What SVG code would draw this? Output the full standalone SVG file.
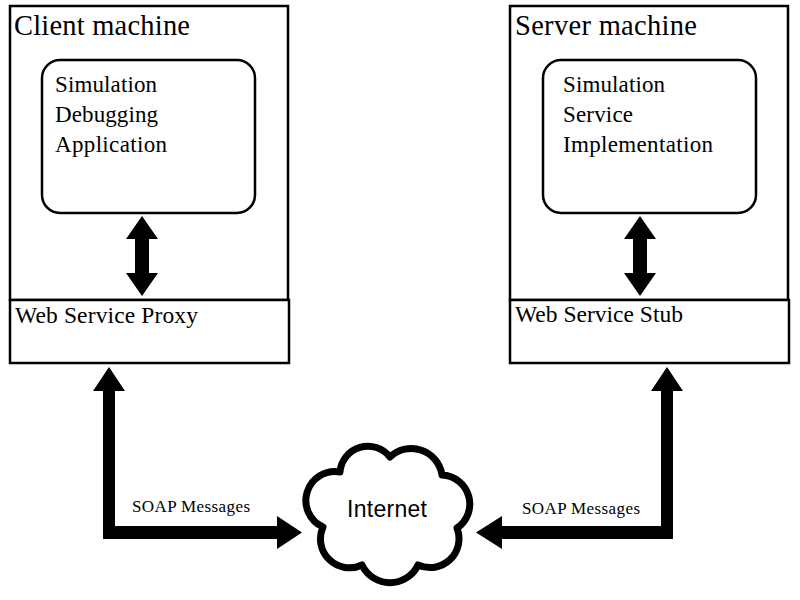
<svg xmlns="http://www.w3.org/2000/svg" width="800" height="600" viewBox="0 0 800 600">
<style>
.box{fill:#fff;stroke:#000;stroke-width:2.5}
.inner{fill:#fff;stroke:#000;stroke-width:2.5}
.title{font-family:"Liberation Serif","Times New Roman",serif;font-size:28.5px;fill:#000}
.lbl{font-family:"Liberation Serif","Times New Roman",serif;font-size:23px;fill:#000}
.proxy{font-family:"Liberation Serif","Times New Roman",serif;font-size:23.5px;fill:#000}
.soap{font-family:"Liberation Serif","Times New Roman",serif;font-size:17px;fill:#000}
.net{font-family:"Liberation Sans",Arial,sans-serif;font-size:23px;fill:#000}
.arr{fill:#000;stroke:none}
.cloud{fill:#fff;stroke:#000;stroke-width:7;stroke-linejoin:round}
</style>
<rect width="800" height="600" fill="#fff"/>
<g id="client">
  <rect class="box" x="10" y="6" width="278" height="294"/>
  <text class="title" x="14" y="35" textLength="176" lengthAdjust="spacing">Client machine</text>
</g>
<g id="client-app">
  <rect class="inner" x="42" y="60" width="213" height="153" rx="18" ry="18"/>
  <text class="lbl" x="55" y="92" textLength="102" lengthAdjust="spacing">Simulation</text>
  <text class="lbl" x="55" y="122" textLength="103" lengthAdjust="spacing">Debugging</text>
  <text class="lbl" x="55" y="152" textLength="112" lengthAdjust="spacing">Application</text>
</g>
<g id="client-proxy">
  <rect class="box" x="10" y="300" width="279" height="63"/>
  <text class="proxy" x="15" y="323" textLength="183" lengthAdjust="spacing">Web Service Proxy</text>
</g>
<g id="server">
  <rect class="box" x="510" y="6" width="278" height="294"/>
  <text class="title" x="515" y="35" textLength="182" lengthAdjust="spacing">Server machine</text>
</g>
<g id="server-impl">
  <rect class="inner" x="543" y="60" width="213" height="153" rx="18" ry="18"/>
  <text class="lbl" x="563" y="92" textLength="102" lengthAdjust="spacing">Simulation</text>
  <text class="lbl" x="563" y="122" textLength="70" lengthAdjust="spacing">Service</text>
  <text class="lbl" x="563" y="152" textLength="150" lengthAdjust="spacing">Implementation</text>
</g>
<g id="server-stub">
  <rect class="box" x="510" y="300" width="279" height="63"/>
  <text class="proxy" x="515" y="322" textLength="168" lengthAdjust="spacing">Web Service Stub</text>
</g>
<g id="internet">
  <path class="cloud" d="M340,472 A28,28 0 0 1 390,457 A31,31 0 0 1 442,475 A29,29 0 0 1 457,528 A29,29 0 0 1 418,565 A31,31 0 0 1 362,565 A29,29 0 0 1 323,527 A29,29 0 0 1 340,472 Z"/>
  <text class="net" x="387" y="517" text-anchor="middle" textLength="80" lengthAdjust="spacing">Internet</text>
</g>
<g id="connectors">
  <polygon class="arr" points="142,216 158,239 149,239 149,273 158,273 142,296 126,273 135,273 135,239 126,239"/>
  <polygon class="arr" points="640,216 656,239 647,239 647,273 656,273 640,296 624,273 633,273 633,239 624,239"/>
  <polygon class="arr" points="109,367 125,391 115,391 115,526 277,526 277,516 302,532.5 277,549 277,539 103,539 103,391 93,391"/>
  <polygon class="arr" points="667,367 683,391 673,391 673,539 502,539 502,549 476,532.5 502,516 502,526 661,526 661,391 651,391"/>
  <text class="soap" x="132" y="512" textLength="118" lengthAdjust="spacing">SOAP Messages</text>
  <text class="soap" x="522" y="514" textLength="118" lengthAdjust="spacing">SOAP Messages</text>
</g>
</svg>
